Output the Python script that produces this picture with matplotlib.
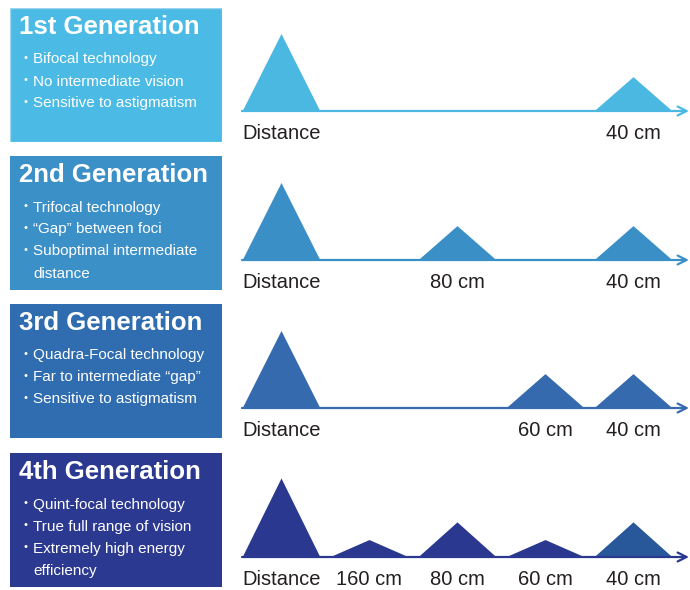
import matplotlib.pyplot as plt
from matplotlib.patches import Rectangle

# --- data -------------------------------------------------------------
generations = ["1st Generation", "2nd Generation", "3rd Generation", "4th Generation"]
bullets = [
    ["Bifocal technology", "No intermediate vision", "Sensitive to astigmatism"],
    ["Trifocal technology", "\u201cGap\u201d between foci", "Suboptimal intermediate\ndistance"],
    ["Quadra-Focal technology", "Far to intermediate \u201cgap\u201d", "Sensitive to astigmatism"],
    ["Quint-focal technology", "True full range of vision", "Extremely high energy\nefficiency"],
]
foci = ["Distance", "160 cm", "80 cm", "60 cm", "40 cm"]
# relative light energy per focus (0 = no focus)
gen1_peaks = [100, 0, 0, 0, 44]
gen2_peaks = [100, 0, 44, 0, 44]
gen3_peaks = [100, 0, 0, 44, 44]
gen4_peaks = [102, 22, 45, 22, 45]
peaks = [gen1_peaks, gen2_peaks, gen3_peaks, gen4_peaks]

box_colors = ["#4BBAE4", "#3C90C8", "#2F6DB0", "#2B3990"]
tri_colors = ["#4BB8E1", "#3B8FC7", "#356AAE", "#2B388F"]
last_tri_color_gen4 = "#29589A"

# --- layout (pixels) --------------------------------------------------
W, H = 690, 590
box_tops = [8, 156, 304, 453]
box_h = 134
baselines = [111, 260, 408, 557]

font = ["Liberation Sans", "DejaVu Sans"]


def frect(x0, y0, x1, y1):
    return [x0 / W, 1 - y1 / H, (x1 - x0) / W, (y1 - y0) / H]


fig = plt.figure(figsize=(6.9, 5.9), dpi=100)

for i in range(4):
    # left description box
    top = box_tops[i]
    bx = fig.add_axes(frect(10, top, 222, top + box_h))
    bx.set_xlim(0, 212)
    bx.set_ylim(box_h, 0)
    bx.axis("off")
    bx.add_patch(Rectangle((0, 0), 212, box_h, facecolor=box_colors[i],
                           edgecolor="#9AD4EE" if i == 0 else box_colors[i], lw=1))
    bx.text(9, 19, generations[i], color="white", fontsize=18.5, fontweight="bold",
            family=font, va="center", ha="left")
    y = 50
    for b in bullets[i]:
        for j, line in enumerate(b.split("\n")):
            if j == 0:
                bx.text(14, y, "\u2022", color="white", fontsize=8, family=font,
                        va="center", ha="left")
            bx.text(23, y, line, color="white", fontsize=11, family=font,
                    va="center_baseline", ha="left")
            y += 22

    # right focus diagram
    base = baselines[i]
    ax = fig.add_axes(frect(240, base - 90, 690, base + 30))
    px = 88.0  # pixels per focus step
    ax.set_xlim((240 - 281.5) / px, (690 - 281.5) / px)
    ax.set_ylim(-30 / 0.77, 90 / 0.77)
    ax.axis("off")

    ax.annotate("", xy=((689 - 281.5) / px, 0), xytext=((242 - 281.5) / px, 0),
                arrowprops=dict(arrowstyle="->", color=tri_colors[i], lw=1.6,
                                mutation_scale=16, shrinkA=0, shrinkB=0))
    for k, (name, h) in enumerate(zip(foci, peaks[i])):
        if h <= 0:
            continue
        hw = 0.44
        c = tri_colors[i]
        if i == 3 and k == len(foci) - 1:
            c = last_tri_color_gen4
        ax.fill([k - hw, k, k + hw], [0, h, 0], color=c, lw=0)
        ax.annotate(name, xy=(k, 0), xytext=(0, -16), textcoords="offset points",
                    ha="center", va="center", fontsize=14.5, color="#231F20",
                    family=font)

fig.savefig("out.png", dpi=100, facecolor="white")
